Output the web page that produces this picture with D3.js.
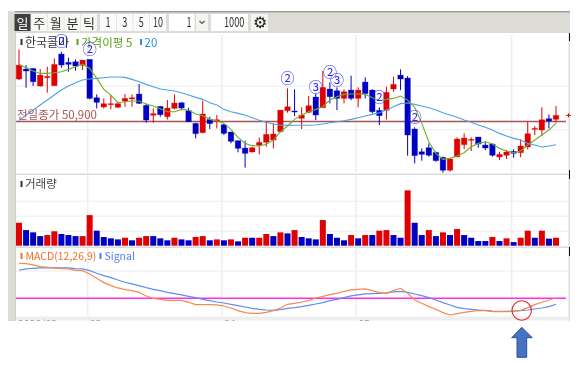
<!DOCTYPE html>
<html>
<head>
<meta charset="utf-8">
<style>
  html, body { margin: 0; padding: 0; background: #fff; }
  svg { display: block; filter: blur(0.3px); }
  text { font-family: "Noto Sans CJK KR", "Liberation Sans", sans-serif; }
  .grid line { stroke: #ececec; }
  .grid path, .grid text { display: none; }
</style>
<script src="https://cdn.jsdelivr.net/npm/d3@7"></script>
</head>
<body>
<div id="chart"></div>
<script>
const openPrices = [
  55740,56880,56950,54940,55890,54980,58590,57640,57710,57300,
  57980,53610,52550,52810,52510,53230,53460,54030,52740,51600,
  52620,51440,52390,53040,52130,50680,49620,51140,50910,50530,
  49700,48710,47870,47420,48180,48520,48780,49730,52130,52090,
  51250,51940,53690,52470,54600,54410,53530,54480,53530,55400,
  54480,52170,52170,54600,56190,55850,50040,47450,47910,47380,
  46810,45330,46850,48250,48780,49130,48210,48330,46850,47040,
  47490,47340,47990,50000,49920,51220,51140];
const highPrices = [
  59120,57330,56950,56880,57140,58090,58850,58170,57980,57900,
  57980,53990,53530,53910,53150,54030,53990,55170,52960,52390,
  52660,53340,53990,53080,52470,50760,53270,51440,51630,50610,
  49730,48710,48710,48020,49090,50870,50680,52200,54670,54560,
  52510,53800,54100,56650,55360,54790,54560,56120,54790,55930,
  54560,52510,54860,56000,56840,56080,50230,47830,48400,47450,
  46880,46690,49090,49540,49090,49130,48590,48400,47450,47640,
  47720,48860,50870,50380,52510,51710,52660];
const lowPrices = [
  55620,54750,54940,54860,54180,54980,57030,56570,56690,56760,
  53420,52390,52390,52280,52470,52580,52580,52890,50760,50760,
  51440,51140,52280,52200,50870,48970,49540,50040,50110,49350,
  48400,47380,45630,47340,47150,48020,47830,49660,51900,51520,
  50040,51820,51060,52470,52960,52200,52960,53340,52510,53530,
  51820,50490,51140,54290,54480,47000,46120,46430,46880,46310,
  45060,45170,46810,47760,47530,47910,47640,46880,46500,46620,
  46770,46810,47720,49350,49240,50110,50760];
const closePrices = [
  57330,56650,55430,56190,56040,57410,57330,57410,57220,57900,
  53530,53080,52930,52930,52930,53530,53610,52960,51060,51790,
  51670,52430,53000,52430,50870,49510,51750,50650,51100,49540,
  48630,47830,47260,47910,48520,49430,49470,52200,52580,51980,
  51630,52700,51630,54790,53720,53530,54290,53530,54480,54070,
  52010,51560,54220,55130,55740,49350,47000,47150,47040,46430,
  45330,46620,48900,49010,48860,48330,47870,47040,47150,47420,
  47260,48100,49510,50110,51100,50950,51600];

const ma5 = [
  57410,57030,56650,56380,56380,56460,56570,56840,57140,57450,
  56950,55810,54560,53910,53040,53150,53230,53230,52890,52660,
  52360,52010,52010,52280,52200,51750,51560,51140,50990,50680,
  50000,49090,48400,48140,48100,48290,48780,49730,50380,51140,
  51630,52010,52280,52580,53340,53720,53990,54030,54030,53990,
  53610,53270,53420,53530,53800,53340,52510,50680,48590,47260,
  46580,46690,46960,47340,48020,48400,48590,48330,47830,47530,
  47340,47530,48210,48780,49350,49920,50680];
const ma20 = [
  50990,51630,52200,52770,53340,53910,54480,54940,55320,55620,
  55740,55810,55890,55970,55970,55930,55700,55430,55130,54860,
  54600,54480,54370,54180,53910,53650,53420,53040,52770,52280,
  52010,51820,51630,51330,51030,50800,50610,50460,50490,50460,
  50460,50460,50490,50610,50760,50870,50990,51140,51330,51520,
  51710,51900,52200,52580,52930,53000,52850,52660,52470,52200,
  51900,51630,51370,51060,50800,50490,50230,49920,49540,49240,
  48970,48780,48400,48210,47990,48100,48250];

const prevClose = 50900;
const priceTicks = [50000, 55000];

// index of candle and price the circled count sits on
const markIndex = [6, 10, 38, 42, 44, 45, 51, 56];
const markPrice = [60070, 59160, 55850, 54860, 56570, 55590, 53720, 51440];
const markLabel = ['②', '②', '②', '③', '②', '③', '②', '②'];

const volume = [
  1.53,1.04,.89,.64,.71,.96,.78,.71,.64,.64,
  2.04,1.0,.58,.49,.42,.53,.36,.53,.64,.64,
  .49,.36,.53,.42,.36,.58,.64,.36,.42,.36,
  .42,.29,.53,.53,.53,.78,.64,.89,.82,1.04,
  .58,.49,.42,1.71,.78,.53,.36,.71,.49,.71,
  .71,1.0,1.04,.71,.53,3.69,1.53,.71,1.04,.64,
  .89,.71,1.11,.71,.53,.31,.31,.58,.31,.49,
  .24,.53,1.0,.53,1.0,.47,.53];
const volumeUp = 'rbbbrrbbbrrbbbbrbrrbbbrbbrrbrbrbrbrrbrb' + 'rbbbrbbbrbrbrrbbrbbrbrbrbbbbrbrbrrbrbr';
const volumeTicks = [1, 2, 3];

const macd = [
  630,624,600,570,558,546,534,528,504,498,
  438,360,282,228,186,156,138,108,42,0,
  -18,-36,-36,-36,-72,-114,-114,-114,-120,-138,
  -174,-222,-258,-270,-270,-252,-222,-174,-108,-90,
  -66,-42,6,36,66,90,126,150,162,168,
  138,102,90,138,180,90,-30,-90,-150,-198,
  -258,-300,-276,-252,-234,-216,-222,-240,-240,-240,
  -234,-216,-168,-114,-72,-30,6];
const signal = [
  504,528,540,546,546,546,546,546,534,528,
  498,450,408,372,330,288,258,228,192,162,
  138,108,84,60,36,12,-18,-42,-66,-84,
  -108,-132,-156,-180,-198,-210,-216,-204,-180,-168,
  -150,-126,-102,-78,-42,-18,12,42,60,78,
  84,90,96,114,126,108,78,48,12,-30,
  -78,-120,-162,-186,-198,-210,-216,-228,-234,-234,
  -228,-222,-210,-192,-174,-150,-108];
const macdTicks = [500];

const periodLabels = ['일', '주', '월', '분', '틱'];
const unitLabels = ['1', '3', '5', '10'];
const monthIndex = [10, 29, 48, 70];
const monthLabels = ['03', '04', '05', ''];

const RED = '#e00000', BLUE = '#0000c4';

const svg = d3.select('#chart').append('svg')
  .attr('width', 577)
  .attr('height', 365)
  .attr('viewBox', '0 0 577 365');

const x = d3.scaleLinear().domain([0, 76]).range([19, 556]);
const yPrice = d3.scaleLinear().domain([45000, 60000]).range([173.2, 41.67]);
const yVol = d3.scaleLinear().domain([0, 4]).range([245.7, 185.7]);
const yMacd = d3.scaleLinear().domain([-500, 500]).range([326.1, 270.5]);

// ---- frame
const frame = svg.append('g');
frame.append('rect').attr('x', 8).attr('y', 11).attr('width', 562).attr('height', 22).attr('fill', '#dcdbd6');
frame.append('rect').attr('x', 8).attr('y', 11).attr('width', 562).attr('height', 1.4).attr('fill', '#9a9a96');
frame.append('rect').attr('x', 8).attr('y', 11).attr('width', 7).attr('height', 310).attr('fill', '#dcdbd6');
frame.append('rect').attr('x', 15).attr('y', 33).attr('width', 1).attr('height', 288).attr('fill', '#d0d0d0');
frame.append('rect').attr('x', 568.5).attr('y', 33).attr('width', 1.5).attr('height', 288).attr('fill', '#dcdcdc');
frame.append('rect').attr('x', 16).attr('y', 173.5).attr('width', 553).attr('height', 1.5).attr('fill', '#dcdcdc');
frame.append('rect').attr('x', 16).attr('y', 246.5).attr('width', 553).attr('height', 1.5).attr('fill', '#dcdcdc');
frame.append('rect').attr('x', 16).attr('y', 316.5).attr('width', 553).attr('height', 4).attr('fill', '#eeeeee');
[[33, 41], [170, 179], [247, 256]].forEach(([a, b]) => {
  frame.append('rect').attr('x', 569).attr('y', a).attr('width', 1).attr('height', b - a).attr('fill', '#111');
});

// ---- toolbar
const toolbar = svg.append('g').attr('font-size', 13);
const periodX = d3.scalePoint().domain(periodLabels).range([22.5, 89]);
periodLabels.forEach((d, i) => {
  toolbar.append('rect')
    .attr('x', periodX(d) - 8).attr('y', 14).attr('width', 16).attr('height', 17)
    .attr('fill', i === 0 ? '#3f3f3f' : '#f7f7f5');
  toolbar.append('text')
    .attr('x', periodX(d)).attr('y', 27.5).attr('text-anchor', 'middle')
    .attr('fill', i === 0 ? '#fff' : '#333').text(d);
});
const unitX = d3.scalePoint().domain(unitLabels).range([108, 158]);
unitLabels.forEach(d => {
  toolbar.append('rect')
    .attr('x', unitX(d) - 8).attr('y', 14).attr('width', 16).attr('height', 17).attr('fill', '#fbfbfb');
  toolbar.append('text')
    .attr('x', unitX(d)).attr('y', 27).attr('text-anchor', 'middle').attr('fill', '#333')
    .attr('textLength', d.length * 5).attr('lengthAdjust', 'spacingAndGlyphs').text(d);
});
toolbar.append('rect').attr('x', 169).attr('y', 14).attr('width', 25.5).attr('height', 17).attr('fill', '#fff');
toolbar.append('text').attr('x', 191.5).attr('y', 27).attr('text-anchor', 'end').attr('fill', '#333')
  .attr('textLength', 5).attr('lengthAdjust', 'spacingAndGlyphs').text('1');
toolbar.append('rect').attr('x', 196).attr('y', 14).attr('width', 12).attr('height', 17).attr('fill', '#f4f4f2');
toolbar.append('path').attr('d', 'M199.5 21l2.5 2.5l2.5-2.5').attr('fill', 'none').attr('stroke', '#555').attr('stroke-width', 1.2);
toolbar.append('rect').attr('x', 211).attr('y', 14).attr('width', 37).attr('height', 17).attr('fill', '#fff');
toolbar.append('text').attr('x', 244.5).attr('y', 27).attr('text-anchor', 'end').attr('fill', '#333')
  .attr('textLength', 20.5).attr('lengthAdjust', 'spacingAndGlyphs').text('1000');
toolbar.append('rect').attr('x', 251).attr('y', 14).attr('width', 17).attr('height', 17).attr('fill', '#f4f4f2');
toolbar.append('text').attr('x', 259.5).attr('y', 27.5).attr('text-anchor', 'middle').attr('font-size', 16).attr('fill', '#222').text('⚙');

// ---- grid
const grid = svg.append('g');
monthIndex.forEach(i => {
  [[35, 172], [175, 245], [248, 316]].forEach(([a, b]) => {
    grid.append('line')
      .attr('x1', x(i) - 2).attr('x2', x(i) - 2).attr('y1', a).attr('y2', b)
      .attr('stroke', '#eeeeee').attr('stroke-width', 1.5);
  });
});
const gridWidth = 552;
grid.append('g').attr('class', 'grid').attr('transform', 'translate(16,0)')
  .call(d3.axisLeft(yPrice).tickValues(priceTicks).tickSize(-gridWidth));
grid.append('g').attr('class', 'grid').attr('transform', 'translate(16,0)')
  .call(d3.axisLeft(yVol).tickValues(volumeTicks).tickSize(-gridWidth));
grid.append('g').attr('class', 'grid').attr('transform', 'translate(16,0)')
  .call(d3.axisLeft(yMacd).tickValues(macdTicks).tickSize(-gridWidth));

// ---- previous close
svg.append('line')
  .attr('x1', 16).attr('x2', 566)
  .attr('y1', yPrice(prevClose)).attr('y2', yPrice(prevClose))
  .attr('stroke', '#a65458').attr('stroke-width', 1.4);

// ---- candles
const candles = svg.append('g').selectAll('g')
  .data(d3.range(openPrices.length))
  .join('g')
  .attr('fill', i => closePrices[i] >= openPrices[i] ? RED : BLUE)
  .attr('stroke', i => closePrices[i] >= openPrices[i] ? RED : BLUE);
candles.append('line')
  .attr('x1', i => x(i)).attr('x2', i => x(i))
  .attr('y1', i => yPrice(highPrices[i]))
  .attr('y2', i => yPrice(lowPrices[i]))
  .attr('stroke-width', 1);
candles.append('rect')
  .attr('x', i => x(i) - 2.8)
  .attr('width', 5.6)
  .attr('y', i => yPrice(Math.max(openPrices[i], closePrices[i])))
  .attr('height', i => Math.max(1, Math.abs(yPrice(openPrices[i]) - yPrice(closePrices[i]))))
  .attr('stroke-opacity', 0.25)
  .attr('stroke-width', 1);

// last price tick on the right edge
svg.append('path')
  .attr('d', `M${x(76) + 10} ${yPrice(closePrices[76])}h5M${x(76) + 12.5} ${yPrice(closePrices[76]) - 2}v4`)
  .attr('stroke', RED).attr('stroke-width', 1).attr('fill', 'none');

// ---- moving averages
const priceLine = d3.line().x((d, i) => x(i)).y(d => yPrice(d));
svg.append('path').attr('d', priceLine(ma20))
  .attr('fill', 'none').attr('stroke', '#4ba3e6').attr('stroke-width', 1.1);
svg.append('path').attr('d', priceLine(ma5))
  .attr('fill', 'none').attr('stroke', '#6fae2e').attr('stroke-width', 1.1);

// ---- pane titles
const titles = svg.append('g').attr('font-size', 11.5);
titles.append('rect').attr('x', 20.5).attr('y', 39).attr('width', 2).attr('height', 6).attr('fill', '#333');
titles.append('text').attr('x', 25).attr('y', 47).attr('fill', '#333').attr('font-size', 12).text('한국콜마');
titles.append('rect').attr('x', 76.5).attr('y', 39).attr('width', 2).attr('height', 6).attr('fill', '#5aa21e');
titles.append('text').attr('x', 81).attr('y', 47).attr('fill', '#5aa21e').attr('font-size', 11.5).text('가격이평 5');
titles.append('rect').attr('x', 140).attr('y', 39).attr('width', 2).attr('height', 6).attr('fill', '#2a8fe0');
titles.append('text').attr('x', 144.5).attr('y', 47).attr('fill', '#2a8fe0').text('20');
titles.append('text').attr('x', 17).attr('y', 119).attr('fill', '#a65458').attr('font-size', 11.5).text('전일종가 50,900');
titles.append('rect').attr('x', 20.5).attr('y', 181).attr('width', 2).attr('height', 6).attr('fill', '#333');
titles.append('text').attr('x', 25).attr('y', 188).attr('fill', '#444').text('거래량');
titles.append('rect').attr('x', 20.5).attr('y', 253).attr('width', 2).attr('height', 6).attr('fill', '#f26f2c');
titles.append('text').attr('x', 25.5).attr('y', 260).attr('fill', '#f26f2c').attr('font-size', 10.5)
  .attr('font-family', 'DejaVu Sans Mono').text('MACD(12,26,9)');
titles.append('rect').attr('x', 99.5).attr('y', 253).attr('width', 2).attr('height', 6).attr('fill', '#4f7fe8');
titles.append('text').attr('x', 104.5).attr('y', 260).attr('fill', '#4f7fe8').attr('font-size', 10.5)
  .attr('font-family', 'DejaVu Sans Mono').text('Signal');

// ---- circled counts
svg.append('g').selectAll('text')
  .data(markIndex)
  .join('text')
  .attr('x', d => x(d))
  .attr('y', (d, i) => yPrice(markPrice[i]) + 4.8)
  .attr('text-anchor', 'middle')
  .attr('font-size', 14)
  .attr('fill', '#2a2aff')
  .text((d, i) => markLabel[i]);

// ---- volume
svg.append('g').selectAll('rect')
  .data(volume)
  .join('rect')
  .attr('x', (d, i) => x(i) - 3)
  .attr('width', 6)
  .attr('y', d => yVol(d))
  .attr('height', d => yVol(0) - yVol(d))
  .attr('fill', (d, i) => volumeUp[i] === 'r' ? RED : BLUE);

// ---- macd
svg.append('line')
  .attr('x1', 16).attr('x2', 566)
  .attr('y1', yMacd(0)).attr('y2', yMacd(0))
  .attr('stroke', '#ff2cf0').attr('stroke-width', 1.4);
const macdLine = d3.line().x((d, i) => x(i)).y(d => yMacd(d));
svg.append('path').attr('d', macdLine(signal))
  .attr('fill', 'none').attr('stroke', '#5f8ef0').attr('stroke-width', 1.2);
svg.append('path').attr('d', macdLine(macd))
  .attr('fill', 'none').attr('stroke', '#f58a50').attr('stroke-width', 1.2);

// ---- date strip, cut off at the bottom of the capture
svg.append('clipPath').attr('id', 'dateClip')
  .append('rect').attr('x', 16).attr('y', 316).attr('width', 553).attr('height', 4.5);
const dates = svg.append('g').attr('clip-path', 'url(#dateClip)')
  .attr('font-size', 10.5).attr('fill', '#333');
dates.append('text').attr('x', 18).attr('y', 327.5).text('2020/02');
monthIndex.forEach((d, i) => {
  dates.append('text').attr('x', x(d)).attr('y', 327.5).text(monthLabels[i]);
});

// ---- callouts drawn on top of the screenshot
svg.append('circle')
  .attr('cx', 521.7).attr('cy', 310.5).attr('r', 9.7)
  .attr('fill', 'none').attr('stroke', '#e8202a').attr('stroke-width', 1.1);
svg.append('path')
  .attr('d', 'M521.7 327.3L532.3 337.7H526.7V357.3H517V337.7H511.7Z')
  .attr('fill', '#4472c4').attr('stroke', '#2f528f').attr('stroke-width', 1);
</script>
</body>
</html>
